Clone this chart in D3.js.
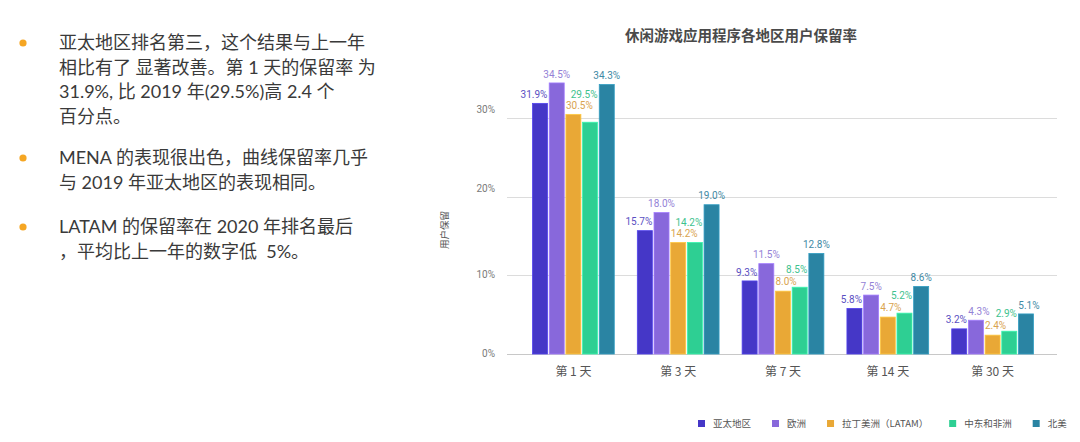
<!DOCTYPE html>
<html>
<head>
<meta charset="utf-8">
<script src="https://cdn.jsdelivr.net/npm/d3@7"></script>
<style>
  html, body { margin: 0; padding: 0; background: #fff; }
  svg { display: block; }
  .body-text { white-space: pre; }
</style>
</head>
<body>
<div id="chart"></div>
<script>
// data
const categories = ['第 1 天', '第 3 天', '第 7 天', '第 14 天', '第 30 天'];
const regions = ['亚太地区', '欧洲', '拉丁美洲（LATAM）', '中东和非洲', '北美'];
const apac = [31.9, 15.7, 9.3, 5.8, 3.2];
const europe = [34.5, 18.0, 11.5, 7.5, 4.3];
const latam = [30.5, 14.2, 8.0, 4.7, 2.4];
const mena = [29.5, 14.2, 8.5, 5.2, 2.9];
const northAmerica = [34.3, 19.0, 12.8, 8.6, 5.1];
const yTicks = [0, 10, 20, 30];

const barColors = ['#4537c7', '#8868db', '#e9a836', '#2ecf93', '#2a84a3'];
const labelColors = ['#5a4fc2', '#9482d6', '#d9a450', '#3ec28e', '#3f8aa5'];

const bullets = [
  ['亚太地区排名第三，这个结果与上一年', '相比有了 显著改善。第 1 天的保留率 为', '31.9%, 比 2019 年(29.5%)高 2.4 个', '百分点。'],
  ['MENA 的表现很出色，曲线保留率几乎', '与 2019 年亚太地区的表现相同。'],
  ['LATAM 的保留率在 2020 年排名最后', '，平均比上一年的数字低  5%。']
];

const series = [apac, europe, latam, mena, northAmerica];
const width = 1080, height = 442;
const chartFont = 'Roboto, "Noto Sans CJK SC", sans-serif';
const cjkFont = '"Noto Sans CJK SC", Roboto, sans-serif';

let svg = d3.select('#chart')
  .append('svg')
  .attr('width', width)
  .attr('height', height);

// left bullet text
let bulletTop = [43, 158, 227];
let lineHeight = 24.5;
bullets.forEach((lines, bi) => {
  svg.append('circle')
    .attr('cx', 23)
    .attr('cy', bulletTop[bi])
    .attr('r', 3.6)
    .attr('fill', '#f5a623');
  lines.forEach((line, li) => {
    svg.append('text')
      .classed('body-text', true)
      .attr('x', 59)
      .attr('y', bulletTop[bi] + li * lineHeight)
      .attr('dy', '0.36em')
      .attr('font-family', 'Lato, "Noto Sans CJK SC", sans-serif')
      .attr('font-size', 18)
      .attr('fill', '#3a3a3a')
      .text(line);
  });
});

// chart title
svg.append('text')
  .attr('x', 741)
  .attr('y', 36)
  .attr('dy', '0.36em')
  .attr('text-anchor', 'middle')
  .attr('font-family', cjkFont)
  .attr('font-size', 14.5)
  .attr('font-weight', 'bold')
  .attr('fill', '#4a4a4a')
  .text('休闲游戏应用程序各地区用户保留率');

let plotLeft = 507, plotRight = 1057;

let y = d3.scaleLinear()
  .domain([0, 30])
  .range([354, 118.3]);

let x0 = d3.scaleBand()
  .domain(categories)
  .range([521, 1045])
  .paddingInner(0.22)
  .paddingOuter(0.11);

let x1 = d3.scaleBand()
  .domain(d3.range(regions.length))
  .range([0, x0.bandwidth()])
  .paddingInner(0.1)
  .paddingOuter(0);

// gridlines
svg.append('g')
  .selectAll('line')
  .data(yTicks)
  .enter()
  .append('line')
  .attr('x1', plotLeft)
  .attr('x2', plotRight)
  .attr('y1', d => Math.round(y(d)) + 0.5)
  .attr('y2', d => Math.round(y(d)) + 0.5)
  .attr('stroke', d => d === 0 ? '#c8c8c8' : '#dcdcdc')
  .attr('stroke-width', 1.2);

// y tick labels
let yAxis = svg.append('g')
  .attr('transform', `translate(495, 0)`)
  .call(d3.axisLeft(y).tickValues(yTicks).tickSize(0).tickPadding(0).tickFormat(d => d + '%'));
yAxis.select('.domain').remove();
yAxis.selectAll('text')
  .attr('font-family', chartFont)
  .attr('font-size', 10)
  .attr('fill', '#7a7a7a')
  .attr('y', d => d >= 20 ? -9 : -1);

// y axis title
svg.append('text')
  .attr('transform', 'translate(445, 230) rotate(-90)')
  .attr('dy', '0.36em')
  .attr('text-anchor', 'middle')
  .attr('font-family', cjkFont)
  .attr('font-size', 9.5)
  .attr('fill', '#555')
  .text('用户保留');

// bars
let groups = svg.append('g')
  .selectAll('g')
  .data(categories)
  .enter()
  .append('g')
  .attr('transform', d => `translate(${x0(d)}, 0)`);

groups.selectAll('rect')
  .data((d, ci) => series.map((s, si) => ({ si: si, value: s[ci] })))
  .enter()
  .append('rect')
  .attr('x', d => x1(d.si))
  .attr('y', d => y(d.value))
  .attr('width', x1.bandwidth())
  .attr('height', d => y(0) - y(d.value))
  .attr('fill', d => barColors[d.si])
  .attr('stroke', d => d3.color(barColors[d.si]).brighter(0.5))
  .attr('stroke-width', 0.8);

// value labels: keep them off the bars and off each other
let labelLayer = svg.append('g');
let labelH = 11;
categories.forEach((cat, ci) => {
  let boxes = series.map((s, si) => ({
    x0: x0(cat) + x1(si), x1: x0(cat) + x1(si) + x1.bandwidth(),
    y0: y(s[ci]), y1: y(0)
  }));
  let placed = [];
  series.forEach((s, si) => {
    let t = labelLayer.append('text')
      .attr('text-anchor', 'middle')
      .attr('dy', '0.36em')
      .attr('font-family', chartFont)
      .attr('font-size', 10)
      .attr('fill', labelColors[si])
      .text(s[ci].toFixed(1) + '%');
    let w = t.node().getComputedTextLength();
    let cx = (boxes[si].x0 + boxes[si].x1) / 2;
    let cy = y(s[ci]) - 9;

    function clear(px, py) {
      let l = px - w / 2 - 1, r = px + w / 2 + 1, bt = py + labelH / 2;
      let barHit = boxes.some(b => l < b.x1 && r > b.x0 && bt > b.y0);
      let labHit = placed.some(p => Math.abs(p.x - px) < (p.w + w) / 2 + 1 && Math.abs(p.y - py) < labelH);
      return !barHit && !labHit;
    }

    let pos = null;
    for (let dy = 0; dy < 80 && !pos; dy++) {
      for (let k = 0; k <= 20; k++) {
        let dx = (k % 2 ? -1 : 1) * Math.ceil(k / 2);
        if (clear(cx + dx, cy - dy)) { pos = [cx + dx, cy - dy]; break; }
      }
    }
    if (!pos) pos = [cx, cy];
    placed.push({ x: pos[0], y: pos[1], w: w });
    t.attr('x', pos[0]).attr('y', pos[1]);
  });
});

// x labels
svg.append('g')
  .selectAll('text')
  .data(categories)
  .enter()
  .append('text')
  .attr('x', d => x0(d) + x0.bandwidth() / 2)
  .attr('y', 372)
  .attr('dy', '0.36em')
  .attr('text-anchor', 'middle')
  .attr('font-family', cjkFont)
  .attr('font-size', 12)
  .attr('fill', '#555')
  .text(d => d);

// legend
let legend = svg.append('g');
let lx = 698;
regions.forEach((r, i) => {
  legend.append('rect')
    .attr('x', lx)
    .attr('y', 420)
    .attr('width', 7)
    .attr('height', 7)
    .attr('fill', barColors[i]);
  let t = legend.append('text')
    .attr('x', lx + 15)
    .attr('y', 423.5)
    .attr('dy', '0.36em')
    .attr('font-family', cjkFont)
    .attr('font-size', 9.5)
    .attr('fill', '#555')
    .text(r);
  lx += 15 + t.node().getComputedTextLength() + 21;
});
</script>
</body>
</html>
